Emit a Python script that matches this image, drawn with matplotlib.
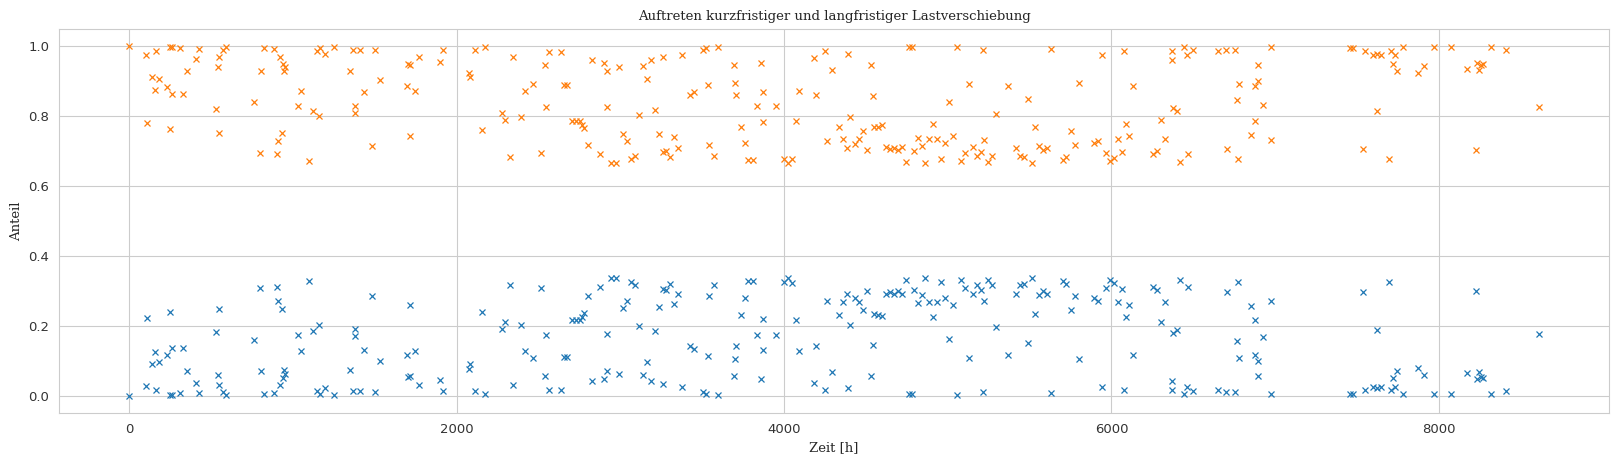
import matplotlib
matplotlib.use("Agg")
import matplotlib.pyplot as plt
import seaborn as sns

# Zeitpunkte [h]
zeit = [
    0, 100, 110, 135, 159, 165, 183, 232, 247, 249, 257, 259, 310, 330, 349, 404, 422,
    526, 538, 544, 550, 569, 591, 758, 795, 801, 819, 886, 899, 905, 917, 935, 941, 947,
    953, 1027, 1045, 1094, 1119, 1143, 1155, 1167, 1192, 1247, 1345, 1363, 1375, 1379,
    1406, 1430, 1479, 1503, 1528, 1693, 1699, 1711, 1717, 1742, 1766, 1895, 1913,
    2073, 2079, 2109, 2151, 2174, 2274, 2292, 2322, 2341, 2390, 2414, 2463, 2513, 2536,
    2542, 2561, 2634, 2652, 2675, 2701, 2726, 2750, 2762, 2776, 2799, 2824, 2872, 2897,
    2915, 2918, 2940, 2970, 2989, 3013, 3038, 3062, 3086, 3111, 3135, 3160, 3184, 3209,
    3233, 3257, 3262, 3276, 3300, 3325, 3349, 3374, 3422, 3447, 3504, 3520, 3537, 3539,
    3569, 3594, 3691, 3697, 3708, 3734, 3759, 3779, 3810, 3832, 3856, 3869, 3873, 3948,
    3997, 4021, 4046, 4070, 4089, 4180, 4194, 4247, 4260, 4290, 4333, 4358, 4382, 4390,
    4400, 4431, 4456, 4480, 4504, 4529, 4541, 4547, 4572, 4596, 4620, 4645, 4669, 4694,
    4718, 4743, 4761, 4779, 4792, 4816, 4840, 4859, 4883, 4908, 4932, 4957, 4981, 5005,
    5030, 5054, 5079, 5103, 5128, 5152, 5177, 5201, 5213, 5219, 5244, 5268, 5293, 5366,
    5415, 5439, 5464, 5488, 5513, 5531, 5555, 5580, 5604, 5629, 5702, 5721, 5751, 5776,
    5800, 5892, 5916, 5940, 5965, 5989, 6014, 6038, 6063, 6075, 6087, 6105, 6130, 6252,
    6277, 6301, 6325, 6368, 6370, 6374, 6399, 6417, 6442, 6460, 6466, 6497, 6649, 6698,
    6704, 6757, 6765, 6772, 6778, 6851, 6875, 6878, 6894, 6897, 6924, 6973, 6976, 7458,
    7474, 7535, 7546, 7596, 7621, 7624, 7645, 7694, 7706, 7719, 7731, 7743, 7780, 7872,
    7908, 7969, 8073, 8171, 8226, 8232, 8244, 8257, 8269, 8318, 8409, 8611,
]

# Anteil kurzfristiger Lastverschiebung
kurzfristig = [
    0.000, 0.026, 0.221, 0.089, 0.126, 0.015, 0.095, 0.117, 0.002, 0.238, 0.137, 0.002, 0.006, 0.137, 0.070, 0.037, 0.007,
    0.181, 0.060, 0.249, 0.031, 0.010, 0.002, 0.160, 0.307, 0.070, 0.004, 0.007, 0.310, 0.271, 0.030, 0.249, 0.050, 0.072,
    0.061, 0.172, 0.127, 0.329, 0.186, 0.013, 0.201, 0.004, 0.021, 0.001, 0.072, 0.012, 0.191, 0.171,
    0.012, 0.130, 0.286, 0.010, 0.098, 0.115, 0.052, 0.258, 0.055, 0.127, 0.030, 0.044, 0.012,
    0.077, 0.089, 0.012, 0.240, 0.003, 0.191, 0.210, 0.317, 0.030, 0.203, 0.127, 0.107, 0.307, 0.055,
    0.173, 0.017, 0.017, 0.110, 0.110, 0.215, 0.215, 0.215, 0.226, 0.235, 0.284, 0.041, 0.310, 0.048,
    0.175, 0.070, 0.335, 0.335, 0.061, 0.250, 0.272, 0.324, 0.315, 0.198, 0.058, 0.095, 0.041, 0.184,
    0.252, 0.032, 0.304, 0.301, 0.318, 0.261, 0.292, 0.024, 0.141, 0.132, 0.010, 0.005, 0.112, 0.284,
    0.315, 0.001, 0.055, 0.104, 0.141, 0.230, 0.278, 0.327, 0.327, 0.172, 0.047, 0.218, 0.130, 0.172,
    0.324, 0.335, 0.323, 0.215, 0.127, 0.035, 0.141, 0.015, 0.272, 0.067, 0.230, 0.267, 0.292, 0.021,
    0.203, 0.280, 0.267, 0.244, 0.298, 0.055, 0.144, 0.232, 0.230, 0.227, 0.290, 0.295, 0.292, 0.298,
    0.290, 0.332, 0.003, 0.003, 0.301, 0.264, 0.287, 0.335, 0.267, 0.224, 0.267, 0.324, 0.278, 0.161,
    0.258, 0.001, 0.330, 0.307, 0.107, 0.290, 0.315, 0.303, 0.010, 0.270, 0.332, 0.315, 0.195, 0.115,
    0.292, 0.315, 0.318, 0.150, 0.335, 0.232, 0.287, 0.298, 0.292, 0.007, 0.327, 0.318, 0.244, 0.284,
    0.104, 0.278, 0.272, 0.024, 0.307, 0.330, 0.321, 0.267, 0.304, 0.015, 0.224, 0.258, 0.115, 0.310,
    0.301, 0.210, 0.267, 0.015, 0.041, 0.178, 0.187, 0.332, 0.003, 0.024, 0.310, 0.012, 0.015, 0.010,
    0.295, 0.010, 0.155, 0.324, 0.107, 0.255, 0.215, 0.115, 0.099, 0.055, 0.167, 0.270, 0.003, 0.005,
    0.005, 0.295, 0.015, 0.024, 0.021, 0.187, 0.024, 0.324, 0.015, 0.050, 0.024, 0.070, 0.003, 0.078,
    0.058, 0.003, 0.003, 0.064, 0.298, 0.047, 0.067, 0.053, 0.050, 0.003, 0.012, 0.175,
]

# Anteil langfristiger Lastverschiebung
langfristig = [
    1.000, 0.974, 0.779, 0.911, 0.874, 0.985, 0.905, 0.883, 0.998, 0.762, 0.863, 0.998, 0.994, 0.863, 0.930, 0.963, 0.993,
    0.819, 0.940, 0.751, 0.969, 0.990, 0.998, 0.840, 0.693, 0.930, 0.996, 0.993, 0.690, 0.729, 0.970, 0.751, 0.950, 0.928,
    0.939, 0.828, 0.873, 0.671, 0.814, 0.987, 0.799, 0.996, 0.979, 0.999, 0.928, 0.988, 0.809, 0.829,
    0.988, 0.870, 0.714, 0.990, 0.902, 0.885, 0.948, 0.742, 0.945, 0.873, 0.970, 0.956, 0.988,
    0.923, 0.911, 0.988, 0.760, 0.997, 0.809, 0.790, 0.683, 0.970, 0.797, 0.873, 0.893, 0.693, 0.945,
    0.827, 0.983, 0.983, 0.890, 0.890, 0.785, 0.785, 0.785, 0.774, 0.765, 0.716, 0.959, 0.690, 0.952,
    0.825, 0.930, 0.665, 0.665, 0.939, 0.750, 0.728, 0.676, 0.685, 0.802, 0.942, 0.905, 0.959, 0.816,
    0.748, 0.968, 0.696, 0.699, 0.682, 0.739, 0.708, 0.976, 0.859, 0.868, 0.990, 0.995, 0.888, 0.716,
    0.685, 0.999, 0.945, 0.896, 0.859, 0.770, 0.722, 0.673, 0.673, 0.828, 0.953, 0.782, 0.870, 0.828,
    0.676, 0.665, 0.677, 0.785, 0.873, 0.965, 0.859, 0.985, 0.728, 0.933, 0.770, 0.733, 0.708, 0.979,
    0.797, 0.720, 0.733, 0.756, 0.702, 0.945, 0.856, 0.768, 0.770, 0.773, 0.710, 0.705, 0.708, 0.702,
    0.710, 0.668, 0.997, 0.997, 0.699, 0.736, 0.713, 0.665, 0.733, 0.776, 0.733, 0.676, 0.722, 0.839,
    0.742, 0.999, 0.670, 0.693, 0.893, 0.710, 0.685, 0.697, 0.990, 0.730, 0.668, 0.685, 0.805, 0.885,
    0.708, 0.685, 0.682, 0.850, 0.665, 0.768, 0.713, 0.702, 0.708, 0.993, 0.673, 0.682, 0.756, 0.716,
    0.896, 0.722, 0.728, 0.976, 0.693, 0.670, 0.679, 0.733, 0.696, 0.985, 0.776, 0.742, 0.885, 0.690,
    0.699, 0.790, 0.733, 0.985, 0.959, 0.822, 0.813, 0.668, 0.997, 0.976, 0.690, 0.988, 0.985, 0.990,
    0.705, 0.990, 0.845, 0.676, 0.893, 0.745, 0.785, 0.885, 0.901, 0.945, 0.833, 0.730, 0.997, 0.995,
    0.995, 0.705, 0.985, 0.976, 0.979, 0.813, 0.976, 0.676, 0.985, 0.950, 0.976, 0.930, 0.997, 0.922,
    0.942, 0.997, 0.997, 0.936, 0.702, 0.953, 0.933, 0.947, 0.950, 0.997, 0.988, 0.825,
]

titel = "Auftreten kurzfristiger und langfristiger Lastverschiebung"
x_label = "Zeit [h]"
y_label = "Anteil"

sns.set_style("whitegrid")

fig = plt.figure(figsize=(16.19, 4.66), dpi=100)
ax = fig.add_axes([59 / 1619, 1 - 413 / 466, (1609.3 - 59) / 1619, (413 - 28.7) / 466])

ax.plot(zeit, kurzfristig, "x", color="#1f77b4", ms=5, mew=0.9, linestyle="none")
ax.plot(zeit, langfristig, "x", color="#ff7f0e", ms=5, mew=0.9, linestyle="none")

ax.set_xticks([0, 2000, 4000, 6000, 8000])
ax.set_yticks([0.0, 0.2, 0.4, 0.6, 0.8, 1.0])
ax.tick_params(labelsize=9.5, colors="#333333")

ax.set_title(titel, family="DejaVu Serif", fontsize=9.5, color="#262626")
ax.set_xlabel(x_label, family="DejaVu Serif", fontsize=9.5, color="#262626")
ax.set_ylabel(y_label, family="DejaVu Serif", fontsize=9.5, color="#262626")

fig.savefig("out.png", dpi=100)
